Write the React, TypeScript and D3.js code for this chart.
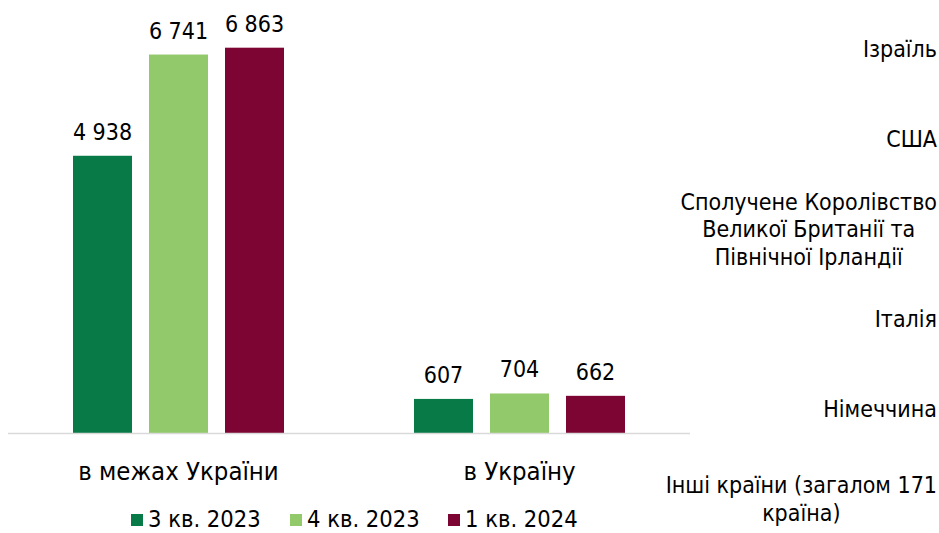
import React, { useEffect, useRef } from "react";
import * as d3 from "d3";

const categories = ["в межах України", "в Україну"];
const seriesNames = ["3 кв. 2023", "4 кв. 2023", "1 кв. 2024"];
const seriesColors = ["#077A47", "#92C96A", "#7D0533"];
const values = [
  [4938, 607],
  [6741, 704],
  [6863, 662],
];
const sideLabels: string[][] = [
  ["Ізраїль"],
  ["США"],
  ["Сполучене Королівство", "Великої Британії та", "Північної Ірландії"],
  ["Італія"],
  ["Німеччина"],
  ["Інші країни (загалом 171", "країна)"],
];

const W = 939;
const H = 533;
const FONT = "'DejaVu Sans Condensed', 'DejaVu Sans', Verdana, sans-serif";
const fmt = (v: number) => d3.format(",")(v).replace(/,/g, " ");

export default function App() {
  const ref = useRef<SVGSVGElement>(null);
  useEffect(() => {
    const svg = d3.select(ref.current);
    svg.selectAll("*").remove();

    const x0 = d3.scaleBand<string>().domain(categories).range([8, 690]);
    const y = d3.scaleLinear().domain([0, 7000]).range([433, 40]);

    const g = svg.append("g");
    categories.forEach((cat, ci) => {
      const c = (x0(cat) as number) + x0.bandwidth() / 2;
      const x1 = d3
        .scaleBand<string>()
        .domain(seriesNames)
        .range([c - 105.5, c + 105.5])
        .paddingInner(0.2237);
      seriesNames.forEach((s, si) => {
        const v = values[si][ci];
        g.append("rect")
          .attr("x", x1(s) as number)
          .attr("y", y(v))
          .attr("width", x1.bandwidth())
          .attr("height", y(0) - y(v))
          .attr("fill", seriesColors[si]);
        g.append("text")
          .attr("x", (x1(s) as number) + x1.bandwidth() / 2)
          .attr("y", y(v) - 16)
          .attr("text-anchor", "middle")
          .attr("font-family", FONT)
          .attr("font-size", 23)
          .attr("fill", "#000")
          .text(fmt(v));
      });
      g.append("text")
        .attr("x", c)
        .attr("y", 480)
        .attr("text-anchor", "middle")
        .attr("font-family", FONT)
        .attr("font-size", 25.5)
        .attr("fill", "#000")
        .text(cat);
    });

    g.append("line")
      .attr("x1", 8)
      .attr("x2", 690)
      .attr("y1", 433.5)
      .attr("y2", 433.5)
      .attr("stroke", "#D9D9D9")
      .attr("stroke-width", 1.5);

    // side labels: evenly spaced slots, each block centred vertically in its slot
    const slot = d3.scalePoint<number>().domain(d3.range(sideLabels.length)).range([49, 499]);
    const lineH = 27.5;
    sideLabels.forEach((lines, i) => {
      const centre = slot(i) as number;
      const first = centre - ((lines.length - 1) * lineH) / 2 + 8;
      const t = svg
        .append("text")
        .attr("font-family", FONT)
        .attr("font-size", 23)
        .attr("fill", "#000")
        .attr("text-anchor", "middle");
      const spans = lines.map((ln, li) =>
        t
          .append("tspan")
          .attr("x", 0)
          .attr("y", first + li * lineH)
          .text(ln)
      );
      let maxW = 0;
      spans.forEach((sp) => {
        const n = sp.node() as SVGTSpanElement;
        maxW = Math.max(maxW, n.getComputedTextLength());
      });
      spans.forEach((sp) => sp.attr("x", 937 - maxW / 2));
    });

    // legend
    const legX = [131, 290, 448];
    seriesNames.forEach((s, si) => {
      svg
        .append("rect")
        .attr("x", legX[si])
        .attr("y", 514)
        .attr("width", 12)
        .attr("height", 12)
        .attr("fill", seriesColors[si]);
      svg
        .append("text")
        .attr("x", legX[si] + 17)
        .attr("y", 527)
        .attr("font-family", FONT)
        .attr("font-size", 23.5)
        .attr("fill", "#000")
        .text(s);
    });
  }, []);

  return (
    <svg
      ref={ref}
      width={W}
      height={H}
      style={{ position: "absolute", left: 0, top: 0, background: "#fff" }}
    />
  );
}
